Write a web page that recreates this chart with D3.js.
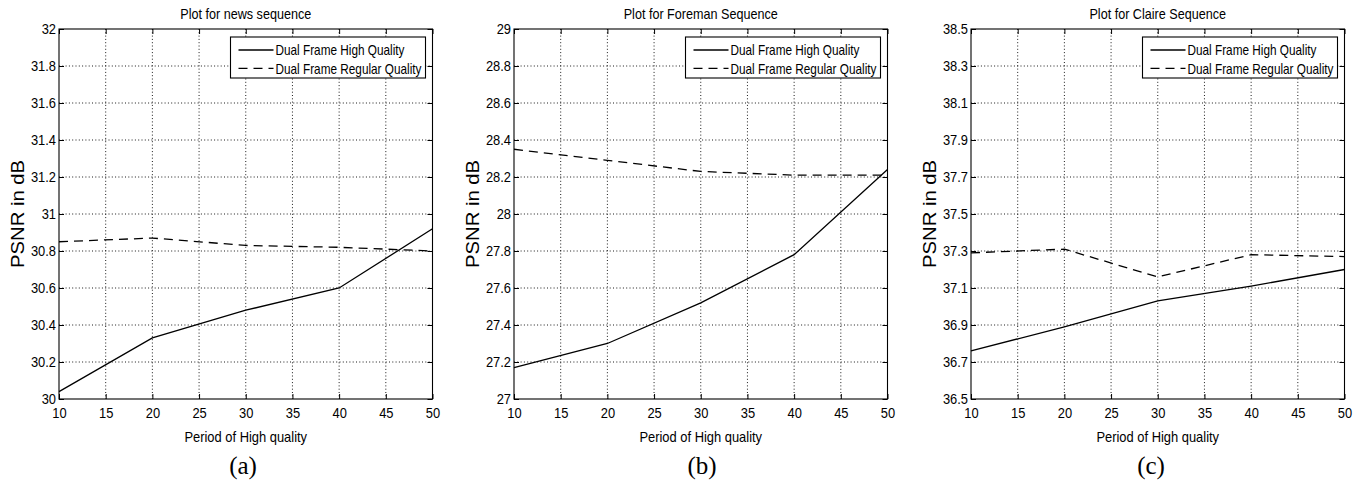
<!DOCTYPE html>
<html>
<head>
<meta charset="utf-8">
<script src="https://cdn.jsdelivr.net/npm/d3@7"></script>
<style>
  body { margin: 0; background: #fff; }
  svg { display: block; }
  text { font-family: "Liberation Sans", Arial, Helvetica, sans-serif; fill: #000; }
</style>
</head>
<body>
<svg id="chart" width="1364" height="485"></svg>
<script>
// Period of the high-quality frame (x values of the measurements)
const periods = [10, 20, 30, 40, 50];
const periodTicks = [10, 15, 20, 25, 30, 35, 40, 45, 50];

// PSNR (dB) for each sequence
const newsHigh       = [30.04, 30.33, 30.48, 30.60, 30.92];
const newsRegular    = [30.85, 30.87, 30.83, 30.82, 30.80];
const foremanHigh    = [27.17, 27.30, 27.52, 27.78, 28.24];
const foremanRegular = [28.35, 28.29, 28.23, 28.21, 28.21];
const claireHigh     = [36.76, 36.89, 37.03, 37.11, 37.20];
const claireRegular  = [37.29, 37.31, 37.16, 37.28, 37.27];

// y tick labels per plot
const newsTicks    = [30, 30.2, 30.4, 30.6, 30.8, 31, 31.2, 31.4, 31.6, 31.8, 32];
const foremanTicks = [27, 27.2, 27.4, 27.6, 27.8, 28, 28.2, 28.4, 28.6, 28.8, 29];
const claireTicks  = [36.5, 36.7, 36.9, 37.1, 37.3, 37.5, 37.7, 37.9, 38.1, 38.3, 38.5];

const seriesNames = ["Dual Frame High Quality", "Dual Frame Regular Quality"];
const titles = ["Plot for news sequence", "Plot for Foreman Sequence", "Plot for Claire Sequence"];
const tags = ["(a)", "(b)", "(c)"];
const xLabel = "Period of High quality";
const yLabel = "PSNR in dB";

const panels = [
  { title: titles[0], tag: tags[0], left: 59,  tagX: 243,  high: newsHigh,    regular: newsRegular,    ticks: newsTicks },
  { title: titles[1], tag: tags[1], left: 514, tagX: 702,  high: foremanHigh, regular: foremanRegular, ticks: foremanTicks },
  { title: titles[2], tag: tags[2], left: 971, tagX: 1151, high: claireHigh,  regular: claireRegular,  ticks: claireTicks }
];

const W = 373.5, TOP = 29, BOTTOM = 399;
const svg = d3.select("#chart");

// Narrow the glyphs horizontally (Helvetica-like condensed look)
function squeeze(sel, factor) {
  sel.each(function () {
    const w = this.getComputedTextLength();
    this.setAttribute("textLength", (w * factor).toFixed(2));
    this.setAttribute("lengthAdjust", "spacingAndGlyphs");
  });
}

panels.forEach(p => {
  const x = d3.scaleLinear().domain([periodTicks[0], periodTicks[periodTicks.length - 1]]).range([p.left, p.left + W]);
  const y = d3.scaleLinear().domain([p.ticks[0], p.ticks[p.ticks.length - 1]]).range([BOTTOM, TOP]);
  const g = svg.append("g");

  // dotted grid
  const grid = g.append("g").attr("stroke", "#000").attr("stroke-width", 0.9).attr("stroke-dasharray", "1,2.3");
  grid.selectAll(".gx").data(periodTicks.slice(1, -1)).join("line")
    .attr("x1", d => x(d)).attr("x2", d => x(d)).attr("y1", TOP).attr("y2", BOTTOM);
  grid.selectAll(".gy").data(p.ticks.slice(1, -1)).join("line")
    .attr("y1", d => y(d)).attr("y2", d => y(d)).attr("x1", p.left).attr("x2", p.left + W);

  const fmt = d => String(+d.toFixed(1));

  // axes with inward ticks
  const left = g.append("g").attr("transform", `translate(${p.left},0)`)
    .call(d3.axisLeft(y).tickValues(p.ticks).tickFormat(fmt).tickSizeInner(-5).tickSizeOuter(0).tickPadding(3));
  const right = g.append("g").attr("transform", `translate(${p.left + W},0)`)
    .call(d3.axisRight(y).tickValues(p.ticks).tickFormat("").tickSizeInner(-5).tickSizeOuter(0));
  const bottom = g.append("g").attr("transform", `translate(0,${BOTTOM})`)
    .call(d3.axisBottom(x).tickValues(periodTicks).tickFormat(d3.format("d")).tickSizeInner(-5).tickSizeOuter(0).tickPadding(8));
  const top = g.append("g").attr("transform", `translate(0,${TOP})`)
    .call(d3.axisTop(x).tickValues(periodTicks).tickFormat("").tickSizeInner(-5).tickSizeOuter(0));
  [left, right, bottom, top].forEach(a => {
    a.select(".domain").remove();
    a.selectAll("line").attr("stroke", "#000").attr("stroke-width", 1);
    a.selectAll("text").attr("font-size", 15).attr("font-family", '"Liberation Sans", Arial, sans-serif').attr("fill", "#000");
  });
  squeeze(left.selectAll("text"), 0.86);
  squeeze(bottom.selectAll("text"), 0.86);

  // axes box
  g.append("rect").attr("x", p.left).attr("y", TOP).attr("width", W).attr("height", BOTTOM - TOP)
    .attr("fill", "none").attr("stroke", "#000").attr("stroke-width", 1.1);

  // data lines
  const line = d3.line().x((d, i) => x(periods[i])).y(d => y(d));
  g.append("path").datum(p.high).attr("d", line)
    .attr("fill", "none").attr("stroke", "#000").attr("stroke-width", 1.3);
  g.append("path").datum(p.regular).attr("d", line)
    .attr("fill", "none").attr("stroke", "#000").attr("stroke-width", 1.3).attr("stroke-dasharray", "9,6");

  // legend
  const lx = p.left + W - 7 - 195, ly = TOP + 8;
  const lg = g.append("g");
  lg.append("rect").attr("x", lx).attr("y", ly).attr("width", 195).attr("height", 41)
    .attr("fill", "#fff").attr("stroke", "#000").attr("stroke-width", 1.1);
  seriesNames.forEach((name, i) => {
    const cy = ly + 13 + i * 18.3;
    lg.append("line").attr("x1", lx + 8).attr("x2", lx + 43).attr("y1", cy).attr("y2", cy)
      .attr("stroke", "#000").attr("stroke-width", 1.3).attr("stroke-dasharray", i === 1 ? "9,6" : null);
    const t = lg.append("text").attr("x", lx + 45).attr("y", cy).attr("dy", "0.36em")
      .attr("font-size", 15).text(name);
    squeeze(t, 0.785);
  });

  // title
  const tt = g.append("text").attr("x", p.left + W / 2).attr("y", 18.5).attr("text-anchor", "middle")
    .attr("font-size", 15).text(p.title);
  squeeze(tt, 0.84);

  // x label
  const xl = g.append("text").attr("x", p.left + W / 2).attr("y", 442).attr("text-anchor", "middle")
    .attr("font-size", 15).text(xLabel);
  squeeze(xl, 0.86);

  // y label
  const yl = g.append("text").attr("transform", `translate(${p.left - 35},${(TOP + BOTTOM) / 2}) rotate(-90)`)
    .attr("text-anchor", "middle").attr("font-size", 19).text(yLabel);
  yl.attr("textLength", 108).attr("lengthAdjust", "spacingAndGlyphs");

  // sub-figure tag
  g.append("text").attr("x", p.tagX).attr("y", 474).attr("text-anchor", "middle")
    .attr("font-family", '"Liberation Serif", "Times New Roman", serif').attr("font-size", 25)
    .style("font-family", '"Liberation Serif", "Times New Roman", serif').text(p.tag);
});
</script>
</body>
</html>
